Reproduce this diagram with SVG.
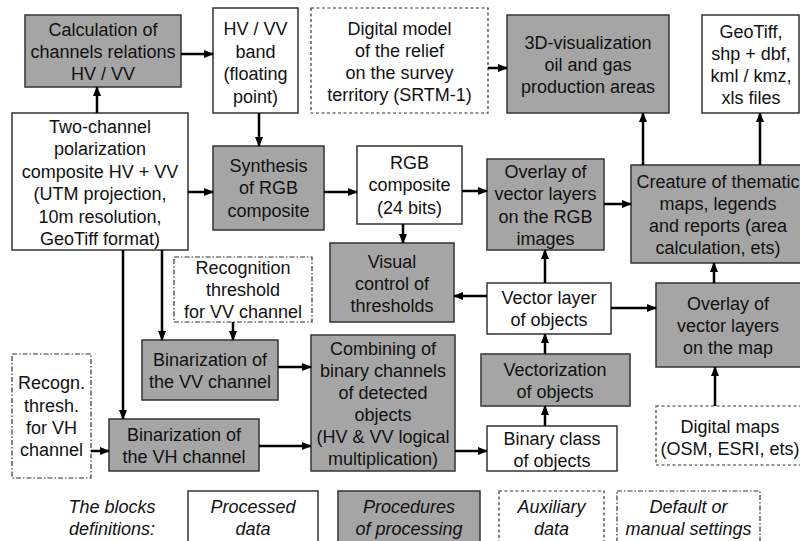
<svg xmlns="http://www.w3.org/2000/svg" width="800" height="541" viewBox="0 0 800 541">
<defs>
<marker id="ah" markerUnits="userSpaceOnUse" markerWidth="10" markerHeight="8" refX="9" refY="4" orient="auto">
<path d="M0,0 L10,4 L0,8 Z" fill="#000"/>
</marker>
<style>
rect{stroke:#333;stroke-width:1.5}
.g{fill:#a5a5a5}
.w{fill:#fff}
.d{fill:#fff;stroke-dasharray:3,2.5;stroke-width:1.2}
.dd{fill:#fff;stroke-dasharray:5,2,1.5,2;stroke-width:1.2}
text{font-family:"Liberation Sans",Arial,sans-serif;font-size:18px;fill:#111;text-anchor:middle}
.i{font-style:italic}
#conn line{stroke:#000;stroke-width:2.5;marker-end:url(#ah)}
</style>
</defs>
<rect width="800" height="541" fill="#fff" style="stroke:none"/>

<g id="calc"><rect class="g" x="25" y="15" width="156" height="72"/>
<text x="103" y="36">Calculation of</text><text x="103" y="58">channels relations</text><text x="103" y="80">HV / VV</text></g>

<g id="hvvv"><rect class="w" x="213" y="8" width="85" height="105"/>
<text x="255.5" y="35">HV / VV</text><text x="255.5" y="57.5">band</text><text x="255.5" y="80">(floating</text><text x="255.5" y="102.5">point)</text></g>

<g id="dem"><rect class="d" x="311" y="8" width="177" height="105"/>
<text x="399.5" y="35">Digital model</text><text x="399.5" y="57">of the relief</text><text x="399.5" y="79">on the survey</text><text x="399.5" y="101">territory (SRTM-1)</text></g>

<g id="viz3d"><rect class="g" x="507" y="15" width="162" height="98"/>
<text x="588" y="49">3D-visualization</text><text x="588" y="71">oil and gas</text><text x="588" y="93">production areas</text></g>

<g id="files"><rect class="w" x="702" y="15" width="97" height="98"/>
<text x="751" y="38">GeoTiff,</text><text x="751" y="60">shp + dbf,</text><text x="751" y="82">kml / kmz,</text><text x="751" y="104">xls files</text></g>

<g id="twoch"><rect class="w" x="12" y="113" width="176" height="137"/>
<text x="100" y="133">Two-channel</text><text x="100" y="155">polarization</text><text x="100" y="178">composite HV + VV</text><text x="100" y="200">(UTM projection,</text><text x="100" y="223">10m resolution,</text><text x="100" y="245">GeoTiff format)</text></g>

<g id="synth"><rect class="g" x="213" y="146" width="111" height="84"/>
<text x="268.5" y="172">Synthesis</text><text x="268.5" y="194">of RGB</text><text x="268.5" y="217">composite</text></g>

<g id="rgb"><rect class="w" x="357" y="146" width="105" height="78"/>
<text x="409.5" y="169">RGB</text><text x="409.5" y="191">composite</text><text x="409.5" y="214">(24 bits)</text></g>

<g id="ovrgb"><rect class="g" x="487" y="159" width="117" height="91"/>
<text x="545.5" y="178">Overlay of</text><text x="545.5" y="200">vector layers</text><text x="545.5" y="223">on the RGB</text><text x="545.5" y="245">images</text></g>

<g id="creature"><rect class="g" x="631" y="165" width="176" height="98"/>
<text x="718" y="188">Creature of thematic</text><text x="718" y="210">maps, legends</text><text x="718" y="232">and reports (area</text><text x="718" y="254">calculation, ets)</text></g>

<g id="visual"><rect class="g" x="330" y="243" width="124" height="79"/>
<text x="392" y="268">Visual</text><text x="392" y="290">control of</text><text x="392" y="312">thresholds</text></g>

<g id="recvv"><rect class="dd" x="174" y="257" width="138" height="65"/>
<text x="243" y="274">Recognition</text><text x="243" y="296">threshold</text><text x="243" y="318">for VV channel</text></g>

<g id="vlayer"><rect class="w" x="487" y="283" width="124" height="51"/>
<text x="549" y="304">Vector layer</text><text x="549" y="326">of objects</text></g>

<g id="ovmap"><rect class="g" x="656" y="283" width="145" height="84"/>
<text x="728" y="310">Overlay of</text><text x="728" y="332">vector layers</text><text x="728" y="354">on the map</text></g>

<g id="binvv"><rect class="g" x="142" y="340" width="136" height="60"/>
<text x="210" y="366">Binarization of</text><text x="210" y="388">the VV channel</text></g>

<g id="combining"><rect class="g" x="311" y="335" width="144" height="136"/>
<text x="383" y="355">Combining of</text><text x="383" y="377">binary channels</text><text x="383" y="399">of detected</text><text x="383" y="421">objects</text><text x="383" y="443">(HV &amp; VV logical</text><text x="383" y="465">multiplication)</text></g>

<g id="vectoriz"><rect class="g" x="481" y="354" width="149" height="52"/>
<text x="555" y="376">Vectorization</text><text x="555" y="398">of objects</text></g>

<g id="recvh"><rect class="dd" x="12" y="354" width="79" height="124"/>
<text x="51.5" y="389">Recogn.</text><text x="51.5" y="412">thresh.</text><text x="51.5" y="434">for VH</text><text x="51.5" y="456">channel</text></g>

<g id="binvh"><rect class="g" x="109" y="419" width="150" height="52"/>
<text x="184" y="441">Binarization of</text><text x="184" y="463">the VH channel</text></g>

<g id="binclass"><rect class="w" x="487" y="426" width="130" height="45"/>
<text x="552" y="445">Binary class</text><text x="552" y="467">of objects</text></g>

<g id="dmaps"><rect class="d" x="656" y="406" width="148" height="59"/>
<text x="730" y="433">Digital maps</text><text x="730" y="455">(OSM, ESRI, ets)</text></g>

<g id="legend">
<text class="i" x="112" y="513">The blocks</text><text class="i" x="112" y="535">definitions:</text>
<rect class="w" x="188" y="491" width="130" height="56"/>
<text class="i" x="253" y="513">Processed</text><text class="i" x="253" y="535">data</text>
<rect class="g" x="338" y="491" width="142" height="56"/>
<text class="i" x="409" y="513">Procedures</text><text class="i" x="409" y="535">of processing</text>
<rect class="d" x="499" y="491" width="105" height="56"/>
<text class="i" x="551.5" y="513">Auxiliary</text><text class="i" x="551.5" y="535">data</text>
<rect class="dd" x="617" y="491" width="143" height="56"/>
<text class="i" x="688.5" y="513">Default or</text><text class="i" x="688.5" y="535">manual settings</text>
</g>

<g id="conn">
<line x1="97" y1="113" x2="97" y2="87"/>
<line x1="181" y1="54" x2="213" y2="54"/>
<line x1="259" y1="113" x2="259" y2="146"/>
<line x1="188" y1="192" x2="213" y2="192"/>
<line x1="324" y1="192" x2="357" y2="192"/>
<line x1="462" y1="191" x2="487" y2="191"/>
<line x1="488" y1="68" x2="507" y2="68"/>
<line x1="643" y1="165" x2="643" y2="113"/>
<line x1="760" y1="165" x2="760" y2="113"/>
<line x1="604" y1="204" x2="631" y2="204"/>
<line x1="403" y1="224" x2="403" y2="243"/>
<line x1="487" y1="296" x2="454" y2="296"/>
<line x1="545" y1="283" x2="545" y2="250"/>
<line x1="611" y1="308" x2="656" y2="308"/>
<line x1="714" y1="283" x2="714" y2="263"/>
<line x1="545" y1="354" x2="545" y2="334"/>
<line x1="545" y1="426" x2="545" y2="406"/>
<line x1="455" y1="451" x2="487" y2="451"/>
<line x1="715" y1="406" x2="715" y2="367"/>
<line x1="162" y1="250" x2="162" y2="340"/>
<line x1="123" y1="250" x2="123" y2="419"/>
<line x1="233" y1="322" x2="233" y2="340"/>
<line x1="278" y1="367" x2="311" y2="367"/>
<line x1="91" y1="451" x2="109" y2="451"/>
<line x1="259" y1="446" x2="311" y2="446"/>
</g>
</svg>
